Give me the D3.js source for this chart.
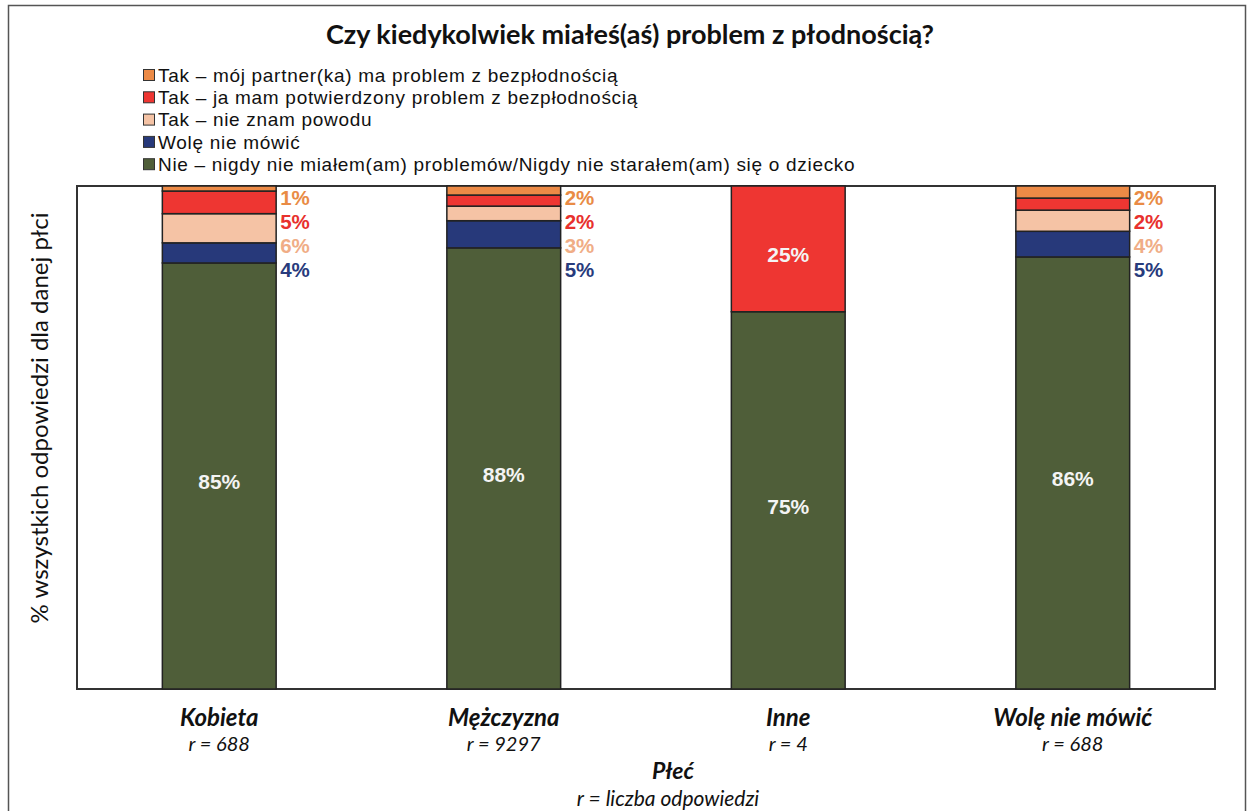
<!DOCTYPE html>
<html>
<head>
<meta charset="utf-8">
<script src="https://cdn.jsdelivr.net/npm/d3@7"></script>
<style>
  html, body { margin: 0; padding: 0; background: #fff; }
  svg { display: block; }
</style>
</head>
<body>
<svg id="chart" width="1249" height="811" font-family="Lato, 'Open Sans', sans-serif"></svg>
<script>
// categories and counts
const categories = ['Kobieta', 'Mężczyzna', 'Inne', 'Wolę nie mówić']
const counts = ['r = 688', 'r = 9297', 'r = 4', 'r = 688']

// series, bottom to top in the stack
const seriesNames = [
  'Nie – nigdy nie miałem(am) problemów/Nigdy nie starałem(am) się o dziecko',
  'Wolę nie mówić',
  'Tak – nie znam powodu',
  'Tak – ja mam potwierdzony problem z bezpłodnością',
  'Tak – mój partner(ka) ma problem z bezpłodnością'
]
const seriesKeys = ['nie', 'wole', 'nieznam', 'ja', 'partner']
const nieValues     = [84.7, 87.7, 75, 85.9]
const woleValues    = [4.0, 5.4, 0, 5.1]
const nieznamValues = [5.8, 2.9, 0, 4.2]
const jaValues      = [4.5, 2.2, 25, 2.4]
const partnerValues = [1.0, 1.8, 0, 2.4]

const fills      = ['#4f5e39', '#27397a', '#f5c3a5', '#ee3632', '#ec8a46']
const labelFills = ['#ffffff', '#283b7c', '#f0ad86', '#e8312d', '#e98b45']

const rows = categories.map((c, i) => ({
  cat: c,
  nie: nieValues[i], wole: woleValues[i], nieznam: nieznamValues[i],
  ja: jaValues[i], partner: partnerValues[i]
}))

const arial = '"Liberation Sans", Arial, sans-serif'
const svg = d3.select('#chart')
const W = 1249, H = 811
const plot = { left: 77, right: 1215, top: 186, bottom: 689 }

// outer frame round the whole picture
svg.append('rect')
  .attr('x', 8.5).attr('y', 5.5)
  .attr('width', W - 12).attr('height', H + 10)
  .attr('fill', 'none').attr('stroke', '#555').attr('stroke-width', 1.5)

const x = d3.scaleBand()
  .domain(categories)
  .range([plot.left, plot.right])
  .paddingInner(0.6)
  .paddingOuter(0.3)

const y = d3.scaleLinear()
  .domain([0, 100])
  .range([plot.bottom, plot.top])

const color = d3.scaleOrdinal().domain(seriesKeys).range(fills)
const labelColor = d3.scaleOrdinal().domain(seriesKeys).range(labelFills)

const stacked = d3.stack().keys(seriesKeys)(rows)

// title
svg.append('text')
  .attr('x', 630).attr('y', 44)
  .attr('text-anchor', 'middle')
  .attr('font-size', 27).attr('font-weight', 700)
  .attr('fill', '#111')
  .text('Czy kiedykolwiek miałeś(aś) problem z płodnością?')

// legend, top entry is the top of the stack
const legendOrder = seriesKeys.slice().reverse()
const legend = svg.append('g').attr('transform', 'translate(143,75)')
legendOrder.forEach((k, i) => {
  const g = legend.append('g').attr('transform', `translate(0,${i * 22.3})`)
  g.append('rect')
    .attr('x', 0.5).attr('y', -5.5).attr('width', 11).attr('height', 11)
    .attr('fill', color(k)).attr('stroke', '#333').attr('stroke-width', 1)
  g.append('text')
    .attr('x', 15).attr('y', 0).attr('dy', '0.35em')
    .attr('font-family', arial)
    .attr('font-size', 19).attr('letter-spacing', 0.7).attr('fill', '#111')
    .text(seriesNames[seriesKeys.indexOf(k)])
})

// plot frame
svg.append('rect')
  .attr('x', plot.left).attr('y', plot.top)
  .attr('width', plot.right - plot.left).attr('height', plot.bottom - plot.top)
  .attr('fill', 'none').attr('stroke', '#333').attr('stroke-width', 2)

// bars
const layers = svg.append('g').selectAll('g')
  .data(stacked)
  .join('g')
  .attr('fill', d => color(d.key))

layers.selectAll('rect')
  .data(d => d.filter(s => s[1] - s[0] > 0))
  .join('rect')
  .attr('x', d => x(d.data.cat))
  .attr('width', x.bandwidth())
  .attr('y', d => y(d[1]))
  .attr('height', d => y(d[0]) - y(d[1]))
  .attr('stroke', '#222')
  .attr('stroke-width', 1.5)

// labels: big segments inside in white, small ones listed beside the bar
const labels = svg.append('g')
categories.forEach((c, i) => {
  const small = []
  stacked.forEach(layer => {
    const s = layer[i]
    const v = s[1] - s[0]
    if (v <= 0) return
    if (v >= 20) {
      labels.append('text')
        .attr('x', x(c) + x.bandwidth() / 2)
        .attr('y', (y(s[0]) + y(s[1])) / 2 + 6)
        .attr('dy', '0.35em')
        .attr('text-anchor', 'middle')
        .attr('font-family', arial)
        .attr('font-size', 21).attr('font-weight', 700)
        .attr('fill', '#f4f4f4')
        .text(Math.round(v) + '%')
    } else {
      small.push({ key: layer.key, v })
    }
  })
  // listed from the top of the stack down
  small.reverse().forEach((d, j) => {
    labels.append('text')
      .attr('x', x(c) + x.bandwidth() + 4)
      .attr('y', plot.top + 12 + j * 24)
      .attr('dy', '0.35em')
      .attr('font-family', arial)
      .attr('font-size', 20.5).attr('font-weight', 700)
      .attr('fill', labelColor(d.key))
      .text(Math.round(d.v) + '%')
  })
})

// category axis labels
const xAxis = svg.append('g')
categories.forEach((c, i) => {
  const cx = x(c) + x.bandwidth() / 2
  xAxis.append('text')
    .attr('x', cx).attr('y', 718).attr('dy', '0.35em')
    .attr('text-anchor', 'middle')
    .attr('font-size', 24).attr('font-weight', 700).attr('font-style', 'italic')
    .attr('fill', '#111')
    .text(c)
  xAxis.append('text')
    .attr('x', cx).attr('y', 744).attr('dy', '0.35em')
    .attr('text-anchor', 'middle')
    .attr('font-size', 20).attr('font-style', 'italic')
    .attr('fill', '#111')
    .text(counts[i])
})

svg.append('text')
  .attr('x', 673).attr('y', 771).attr('dy', '0.35em')
  .attr('text-anchor', 'middle')
  .attr('font-size', 23).attr('font-weight', 700).attr('font-style', 'italic')
  .attr('fill', '#111')
  .text('Płeć')

svg.append('text')
  .attr('x', 668).attr('y', 799).attr('dy', '0.35em')
  .attr('text-anchor', 'middle')
  .attr('font-size', 21).attr('font-style', 'italic')
  .attr('fill', '#111')
  .text('r = liczba odpowiedzi')

// y axis title
svg.append('text')
  .attr('transform', 'translate(40,418) rotate(-90)')
  .attr('dy', '0.35em')
  .attr('text-anchor', 'middle')
  .attr('font-size', 24)
  .attr('fill', '#111')
  .text('% wszystkich odpowiedzi dla danej płci')
</script>
</body>
</html>
